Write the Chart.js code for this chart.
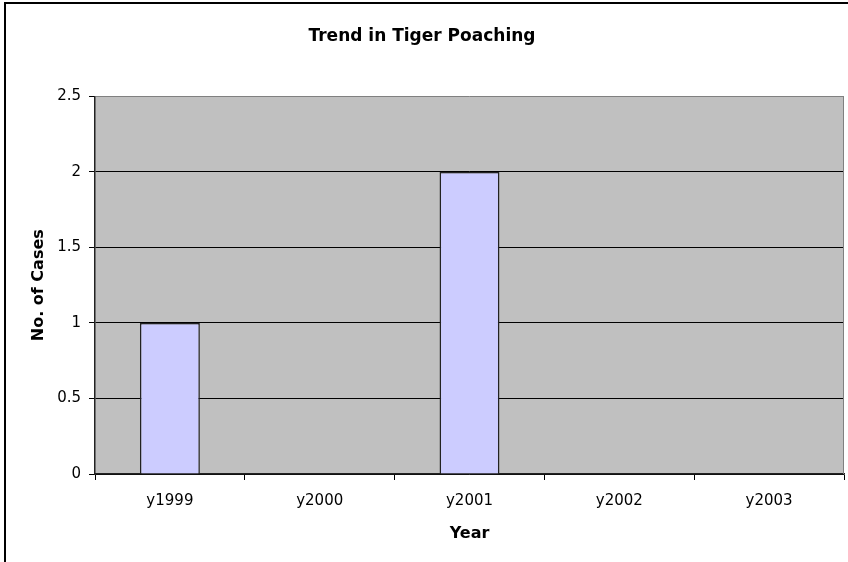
<!DOCTYPE html>
<html>
<head>
  <title>Trend in Tiger Poaching</title>
  <script src="https://cdn.jsdelivr.net/npm/chart.js"></script>
  <style>
    body { margin: 0; background: #fff; }
    /* black frame around the whole chart (top and left edges visible) */
    #frame {
      position: absolute;
      left: 4px;
      top: 2px;
      width: 900px;
      height: 600px;
      border-left: 2px solid #000;
      border-top: 2px solid #000;
    }
    #chartCanvas { position: absolute; left: 0; top: 0; }
  </style>
</head>
<body>
  <div id="frame"></div>
  <canvas id="chartCanvas" width="848" height="562"></canvas>

<script>
// data
let years = ['y1999', 'y2000', 'y2001', 'y2002', 'y2003'];
let cases = [1, 0, 2, 0, 0];

// grey plot area + grey right edge
let plotBackground = {
  id: 'plotBackground',
  beforeDraw(chart) {
    let a = chart.chartArea;
    let ctx = chart.ctx;
    ctx.save();
    ctx.fillStyle = '#c0c0c0';
    ctx.fillRect(a.left, a.top, a.right - a.left, a.bottom - a.top);
    ctx.restore();
  },
  afterDraw(chart) {
    let a = chart.chartArea;
    let ctx = chart.ctx;
    ctx.save();
    ctx.strokeStyle = '#808080';
    ctx.lineWidth = 1;
    ctx.beginPath();
    ctx.moveTo(Math.round(a.right) - 0.5, a.top);
    ctx.lineTo(Math.round(a.right) - 0.5, a.bottom);
    ctx.stroke();
    ctx.restore();
  }
};

let options = {
  type: 'bar',
  data: {
    labels: years,
    datasets: [{
      data: cases,
      backgroundColor: '#ccccff',
      borderColor: '#222',
      borderWidth: 1.5,
      barPercentage: 0.4,
      categoryPercentage: 1.0
    }]
  },
  options: {
    responsive: false,
    animation: false,
    layout: { padding: { top: 0, right: 4, left: 0, bottom: 0 } },
    plugins: {
      legend: { display: false },
      tooltip: { enabled: false },
      title: {
        display: true,
        text: 'Trend in Tiger Poaching',
        color: '#000',
        font: { family: 'DejaVu Sans', size: 17, weight: 'bold' },
        padding: { top: 26, bottom: 50 }
      }
    },
    scales: {
      x: {
        offset: true,
        afterFit: function(scale) { scale.height = 88; },
        grid: {
          display: true,
          drawOnChartArea: false,
          offset: true,
          tickLength: 6,
          tickColor: '#000'
        },
        border: { display: true, color: '#222', width: 1.5 },
        ticks: {
          color: '#000',
          padding: 12,
          font: { family: 'DejaVu Sans', size: 15 }
        },
        title: {
          display: true,
          text: 'Year',
          color: '#000',
          font: { family: 'DejaVu Sans', size: 16, weight: 'bold' },
          padding: { top: 0, bottom: 19 }
        }
      },
      y: {
        min: 0,
        max: 2.5,
        afterFit: function(scale) { scale.width = 95; },
        grid: {
          color: function(c) { return c.tick && c.tick.value === 2.5 ? '#808080' : '#000'; },
          tickLength: 6,
          tickColor: '#000'
        },
        border: { display: true, color: '#222', width: 1.5 },
        ticks: {
          stepSize: 0.5,
          color: '#000',
          padding: 8,
          font: { family: 'DejaVu Sans', size: 15 },
          callback: function(value) { return String(value); }
        },
        title: {
          display: true,
          text: 'No. of Cases',
          color: '#000',
          font: { family: 'DejaVu Sans', size: 16, weight: 'bold' },
          padding: { top: 29, bottom: 0 }
        }
      }
    }
  },
  plugins: [plotBackground]
};

let chart = new Chart(document.getElementById('chartCanvas'), options);
</script>
</body>
</html>
